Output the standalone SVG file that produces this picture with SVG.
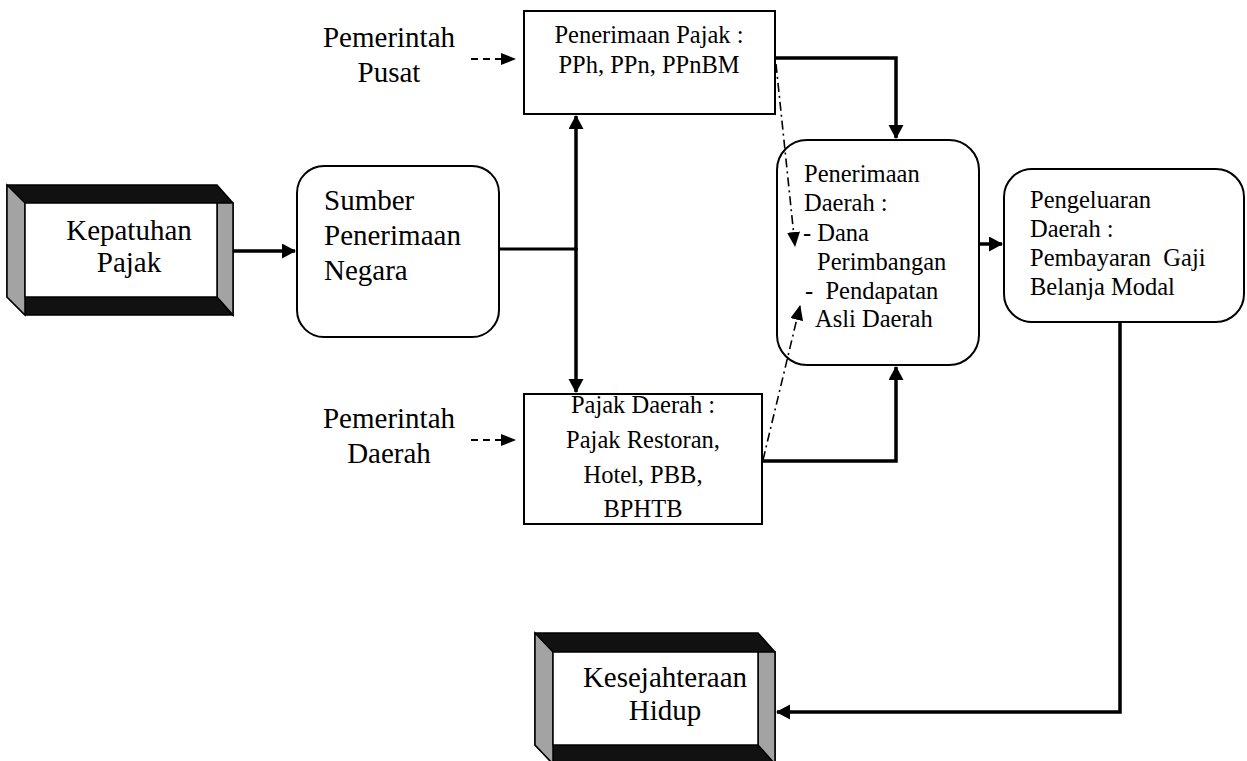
<svg xmlns="http://www.w3.org/2000/svg" width="1247" height="761" viewBox="0 0 1247 761">
<defs>
<style>
text{font-family:"Liberation Serif","Times New Roman",serif;fill:#000}
.big{font-size:29px}
.mid{font-size:24.5px}
.c{text-anchor:middle}
.box{fill:#fff;stroke:#000;stroke-width:2}
.thick{fill:none;stroke:#000;stroke-width:3.5}
.dash{fill:none;stroke:#000;stroke-width:2;stroke-dasharray:7 5}
.dashdot{fill:none;stroke:#000;stroke-width:1.6;stroke-dasharray:9 4 2 4}
.dark{fill:#111;stroke:#000;stroke-width:1.5;stroke-linejoin:miter}
.grey{fill:#a3a3a3;stroke:#000;stroke-width:1.5}
.inner{fill:#fff;stroke:#000;stroke-width:1.5}
</style>
<marker id="ah" markerUnits="userSpaceOnUse" markerWidth="16" markerHeight="16" refX="13" refY="7.5" orient="auto"><path d="M0,0 L14,7.5 L0,15 z" fill="#000"/></marker>
<marker id="ahd" markerUnits="userSpaceOnUse" markerWidth="16" markerHeight="14" refX="14" refY="6" orient="auto"><path d="M0,0 L15,6 L0,12 z" fill="#000"/></marker>
<marker id="ahs" markerUnits="userSpaceOnUse" markerWidth="16" markerHeight="14" refX="14" refY="6.5" orient="auto"><path d="M0,0 L15,6.5 L0,13 z" fill="#000"/></marker>
</defs>
<rect width="1247" height="761" fill="#fff"/>

<g id="kepatuhan">
  <polygon class="dark" points="7,185 217,185 233,203 233,315 25,315 7,297"/>
  <polygon class="grey" points="7,185 25,203 25,315 7,297"/>
  <polygon class="grey" points="217,203 233,203 233,315 217,297"/>
  <rect class="inner" x="25" y="203" width="192" height="94"/>
  <text class="big c" x="129" y="240">Kepatuhan</text>
  <text class="big c" x="129" y="272">Pajak</text>
</g>

<g id="sumber">
  <rect class="box" x="297" y="166" width="202" height="171" rx="27" ry="27"/>
  <text class="big" x="324" y="210">Sumber</text>
  <text class="big" x="324" y="245">Penerimaan</text>
  <text class="big" x="324" y="280">Negara</text>
</g>

<g id="pemerintah-pusat">
  <text class="big c" x="389" y="47">Pemerintah</text>
  <text class="big c" x="389" y="82">Pusat</text>
</g>

<g id="pemerintah-daerah">
  <text class="big c" x="389" y="428">Pemerintah</text>
  <text class="big c" x="389" y="463">Daerah</text>
</g>

<g id="penerimaan-pajak">
  <rect class="box" x="524" y="11" width="251" height="103"/>
  <text class="mid c" x="649" y="43">Penerimaan Pajak :</text>
  <text class="mid c" x="649" y="73">PPh, PPn, PPnBM</text>
</g>

<g id="pajak-daerah">
  <rect class="box" x="524" y="394" width="238" height="130"/>
  <text class="mid c" x="643" y="413">Pajak Daerah :</text>
  <text class="mid c" x="643" y="448">Pajak Restoran,</text>
  <text class="mid c" x="643" y="483">Hotel, PBB,</text>
  <text class="mid c" x="643" y="517">BPHTB</text>
</g>

<g id="penerimaan-daerah">
  <rect class="box" x="777" y="140" width="202" height="225" rx="30" ry="30"/>
  <text class="mid" x="804" y="182">Penerimaan</text>
  <text class="mid" x="804" y="211">Daerah :</text>
  <text class="mid" x="803" y="241">- Dana</text>
  <text class="mid" x="817" y="270">Perimbangan</text>
  <text class="mid" x="805" y="299" xml:space="preserve">-  Pendapatan</text>
  <text class="mid" x="815" y="327">Asli Daerah</text>
</g>

<g id="pengeluaran-daerah">
  <rect class="box" x="1004" y="169" width="240" height="153" rx="28" ry="28"/>
  <text class="mid" x="1030" y="208">Pengeluaran</text>
  <text class="mid" x="1030" y="237">Daerah :</text>
  <text class="mid" x="1030" y="266" xml:space="preserve">Pembayaran  Gaji</text>
  <text class="mid" x="1030" y="295">Belanja Modal</text>
</g>

<g id="kesejahteraan">
  <polygon class="dark" points="535,633 758,633 775,652 775,764 553,764 535,745"/>
  <polygon class="grey" points="535,633 553,652 553,764 535,745"/>
  <polygon class="grey" points="758,652 775,652 775,764 758,745"/>
  <rect class="inner" x="553" y="652" width="205" height="93"/>
  <text class="big c" x="665" y="687">Kesejahteraan</text>
  <text class="big c" x="665" y="720">Hidup</text>
</g>

<g id="connectors">
  <path class="thick" d="M233,251 L295,251" marker-end="url(#ah)"/>
  <path class="thick" d="M499,249 L576,249" style="stroke-width:3"/>
  <path class="thick" d="M576,250 L576,116" marker-end="url(#ah)"/>
  <path class="thick" d="M576,248 L576,392" marker-end="url(#ah)"/>
  <path class="thick" d="M775,58 L896,58 L896,138" marker-end="url(#ah)"/>
  <path class="thick" d="M762,461 L896,461 L896,367" marker-end="url(#ah)"/>
  <path class="thick" d="M980,244 L1002,244" marker-end="url(#ah)"/>
  <path class="thick" d="M1120,322 L1120,712 L777,712" marker-end="url(#ah)"/>
  <path class="dash" d="M471,59 L515,59" marker-end="url(#ahd)"/>
  <path class="dash" d="M471,440 L515,440" marker-end="url(#ahd)"/>
  <path class="dashdot" d="M776,64 L795,246" marker-end="url(#ahs)"/>
  <path class="dashdot" d="M763,460 L800,306" marker-end="url(#ahs)"/>
</g>
</svg>
